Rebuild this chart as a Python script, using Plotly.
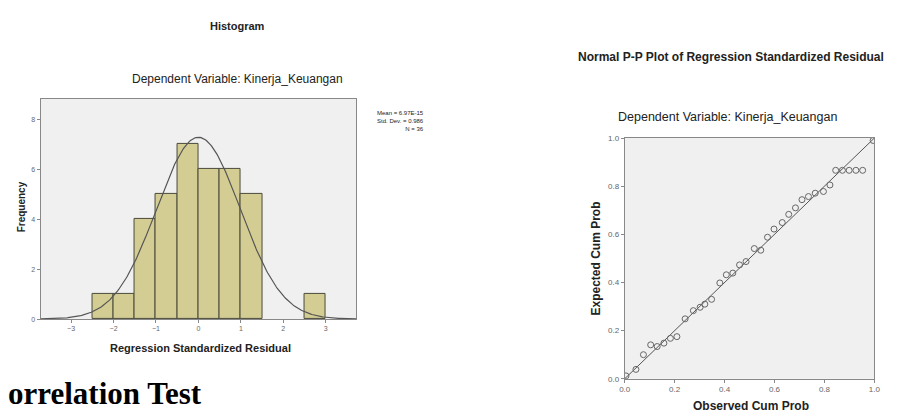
import numpy as np
import plotly.graph_objects as go

# ---------------- data ----------------
bin_left = [-2.5, -2.0, -1.5, -1.0, -0.5, 0.0, 0.5, 1.0, 2.5]
bin_count = [1, 1, 4, 5, 7, 6, 6, 5, 1]
bin_width = 0.5
hist_mean = 0.0
hist_sd = 0.986
hist_n = 36
hist_xticks = [-3, -2, -1, 0, 1, 2, 3]
hist_yticks = [0, 2, 4, 6, 8]

pp_observed = [0.005, 0.045, 0.075, 0.104, 0.130, 0.157, 0.183, 0.209, 0.242, 0.275,
               0.302, 0.321, 0.348, 0.381, 0.407, 0.433, 0.460, 0.486, 0.519, 0.545,
               0.572, 0.598, 0.631, 0.657, 0.684, 0.710, 0.736, 0.763, 0.796, 0.822,
               0.845, 0.872, 0.899, 0.926, 0.953, 0.995]
pp_expected = [0.012, 0.039, 0.100, 0.141, 0.134, 0.148, 0.168, 0.175, 0.249, 0.283,
               0.297, 0.310, 0.330, 0.398, 0.432, 0.439, 0.473, 0.487, 0.541, 0.534,
               0.588, 0.622, 0.649, 0.683, 0.710, 0.744, 0.757, 0.771, 0.778, 0.805,
               0.866, 0.866, 0.866, 0.866, 0.866, 0.990]
pp_ticks = [0.0, 0.2, 0.4, 0.6, 0.8, 1.0]

W, H = 908, 419
def px(x): return x / W
def py(y): return 1 - y / H

FONT = "Liberation Sans, Arial, sans-serif"
BG = "#F0F0F0"

fig = go.Figure()

# histogram bars
centers = [b + bin_width / 2 for b in bin_left]
fig.add_trace(go.Bar(x=centers, y=bin_count, width=bin_width,
                     marker=dict(color="#D3CD93", line=dict(color="#4a4a3a", width=1)),
                     xaxis="x", yaxis="y", showlegend=False))
# normal curve
xs = np.linspace(-3.72, 3.72, 300)
ys = hist_n * bin_width / (hist_sd * np.sqrt(2 * np.pi)) * np.exp(-0.5 * ((xs - hist_mean) / hist_sd) ** 2)
fig.add_trace(go.Scatter(x=xs, y=ys, mode="lines", line=dict(color="#555555", width=1.2),
                         xaxis="x", yaxis="y", showlegend=False))

# P-P plot
fig.add_trace(go.Scatter(x=[0, 1], y=[0, 1], mode="lines", line=dict(color="#555555", width=1),
                         xaxis="x2", yaxis="y2", showlegend=False))
fig.add_trace(go.Scatter(x=pp_observed, y=pp_expected, mode="markers",
                         marker=dict(symbol="circle-open", size=6, color="#666666", line=dict(width=1)),
                         xaxis="x2", yaxis="y2", showlegend=False))

def axis_common(size):
    return dict(showgrid=False, zeroline=False, showline=True, linecolor="#888888", linewidth=1,
                mirror=True, ticks="outside", ticklen=3, tickcolor="#888888",
                tickfont=dict(family=FONT, size=size, color="#666666"))

fig.update_layout(
    width=W, height=H, margin=dict(l=0, r=0, t=0, b=0),
    paper_bgcolor="white", plot_bgcolor=BG, bargap=0,
    xaxis=dict(domain=[px(35), px(355)], range=[-3.72, 3.72], tickvals=hist_xticks,
               anchor="y", **axis_common(7)),
    yaxis=dict(domain=[py(322), py(97)], range=[0, 8.82], tickvals=hist_yticks,
               anchor="x", **axis_common(7)),
    xaxis2=dict(domain=[px(627), px(880)], range=[0, 1], tickvals=pp_ticks, tickformat=".1f",
                anchor="y2", **axis_common(8)),
    yaxis2=dict(domain=[py(383), py(137)], range=[0, 1], tickvals=pp_ticks, tickformat=".1f",
                anchor="x2", **axis_common(8)),
)

def ann(text, x, y, size=8, bold=False, angle=0, xanchor="center", align="center", family=FONT, color="#222222"):
    t = f"<b>{text}</b>" if bold else text
    fig.add_annotation(text=t, x=px(x), y=py(y), xref="paper", yref="paper", showarrow=False,
                       font=dict(family=family, size=size, color=color), textangle=angle,
                       xanchor=xanchor, yanchor="middle", align=align)

ann("Histogram", 235, 22, size=11, bold=True)
ann("Dependent Variable: Kinerja_Keuangan", 235, 77, size=12)
ann("Frequency", 16, 207, size=10, bold=True, angle=-90)
ann("Regression Standardized Residual", 197, 352, size=11, bold=True)
ann("Mean = 6.97E-15<br>Std. Dev. = 0.986<br>N = 36", 426, 120, size=6, xanchor="right", align="right")

ann("Normal P-P Plot of Regression Standardized Residual", 735, 54, size=12, bold=True)
ann("Dependent Variable: Kinerja_Keuangan", 731, 115, size=12.5)
ann("Expected Cum Prob", 598, 260, size=12, bold=True, angle=-90)
ann("Observed Cum Prob", 755, 411, size=12, bold=True)

fig.add_annotation(text="<b>orrelation Test</b>", x=0, y=py(398), xref="paper", yref="paper",
                   showarrow=False, xanchor="left", yanchor="middle",
                   font=dict(family="Liberation Serif, Times New Roman, serif", size=31, color="black"))

fig.write_html("out.html", config={"displayModeBar": False},
               post_script="document.body.style.margin='0px';document.body.style.overflow='hidden';")
